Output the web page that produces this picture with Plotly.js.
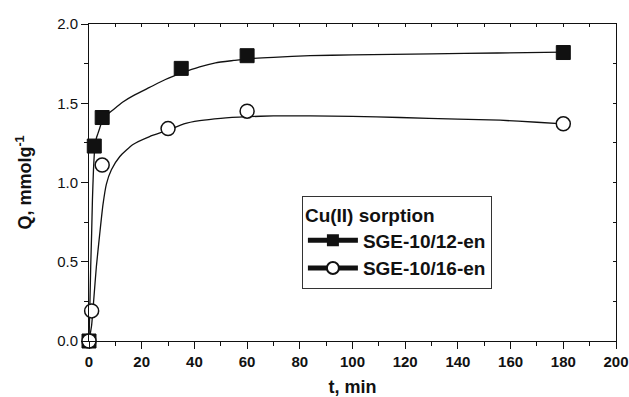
<!DOCTYPE html>
<html>
<head>
<meta charset="utf-8">
<script src="https://cdn.plot.ly/plotly-3.0.1.min.js"></script>
<style>html,body{margin:0;padding:0;background:#fff;}#chart{width:629px;height:397px;}</style>
</head>
<body>
<div id="chart"></div>
<script>
// measured data points
var tSquare = [0, 2, 5, 35, 60, 180];
var qSquare = [0, 1.23, 1.41, 1.72, 1.80, 1.82];
var tCircle = [0, 1, 5, 30, 60, 180];
var qCircle = [0, 0.19, 1.11, 1.34, 1.45, 1.37];

// fitted curves
var tFitSquare = [0, 0.3, 0.65, 1.0, 1.3, 1.7, 2.2, 2.8, 3.4, 4.2, 5, 7, 10, 13, 17, 23, 29, 35, 42, 48, 55, 60, 70, 84, 100, 130, 155, 180];
var qFitSquare = [0, 0.2, 0.47, 0.68, 0.89, 1.08, 1.22, 1.28, 1.31, 1.35, 1.39, 1.43, 1.47, 1.51, 1.55, 1.60, 1.65, 1.69, 1.73, 1.755, 1.77, 1.78, 1.79, 1.80, 1.805, 1.812, 1.817, 1.822];
var tFitCircle = [0, 1, 1.8, 2.8, 4.1, 5.3, 6.6, 8.5, 11.7, 16.7, 23, 30, 36, 42, 50, 60, 70, 84, 100, 118, 140, 156, 170, 180];
var qFitCircle = [0, 0.1, 0.26, 0.47, 0.68, 0.86, 0.99, 1.08, 1.164, 1.24, 1.29, 1.33, 1.37, 1.39, 1.405, 1.415, 1.42, 1.42, 1.417, 1.41, 1.40, 1.393, 1.38, 1.37];

var seriesNames = ['SGE-10/12-en', 'SGE-10/16-en'];
var legendTitle = 'Cu(II) sorption';
var xTitle = 't, min';
var yTitle = 'Q, mmolg<sup>-1</sup>';

var traces = [
  {x: tFitSquare, y: qFitSquare, mode: 'lines+markers', name: seriesNames[0],
   line: {color: '#111', width: 1.3, shape: 'spline', smoothing: 0.5},
   marker: {symbol: 'square', size: 0.001, color: '#111', line: {color: '#111', width: 0}}},
  {x: tFitCircle, y: qFitCircle, mode: 'lines+markers', name: seriesNames[1],
   line: {color: '#111', width: 1.3, shape: 'spline', smoothing: 0.5},
   marker: {symbol: 'circle', size: 0.001, color: '#fff', line: {color: '#111', width: 1.5}}},
  {x: tSquare, y: qSquare, xaxis: 'x2', yaxis: 'y2', mode: 'markers', showlegend: false, cliponaxis: false,
   marker: {symbol: 'square', size: 14, color: '#111', line: {color: '#111', width: 1}}},
  {x: tCircle, y: qCircle, xaxis: 'x2', yaxis: 'y2', mode: 'markers', showlegend: false, cliponaxis: false,
   marker: {symbol: 'circle', size: 14, color: '#fff', line: {color: '#111', width: 1.5}}}
];

var layout = {
  width: 629, height: 397,
  margin: {l: 89, r: 13, t: 24, b: 56},
  paper_bgcolor: '#fff', plot_bgcolor: '#fff',
  font: {family: 'Liberation Sans, Arial, sans-serif', color: '#111'},
  showlegend: true,
  legend: {
    x: 0.404, y: 0.458, xanchor: 'left', yanchor: 'top',
    bgcolor: '#fff', bordercolor: '#333', borderwidth: 1,
    itemsizing: 'constant', itemwidth: 50,
    font: {size: 19, family: 'Liberation Sans, Arial, sans-serif', weight: 'bold', color: '#111'},
    title: {text: '<b>' + legendTitle + '</b>', font: {size: 19, color: '#111'}},
    tracegroupgap: 0
  },
  xaxis: {
    range: [0, 200], dtick: 20, tick0: 0,
    showline: true, linecolor: '#111', linewidth: 1,
    ticks: 'outside', ticklen: 7, tickcolor: '#111',
    minor: {dtick: 10, ticks: 'outside', ticklen: 4, tickcolor: '#111'},
    showgrid: false, zeroline: false,
    tickfont: {size: 15, weight: 'bold', color: '#111'},
    title: {text: '<b>' + xTitle + '</b>', font: {size: 18, color: '#111'}, standoff: 15}
  },
  yaxis: {
    range: [0, 2], dtick: 0.5, tick0: 0, tickformat: '.1f',
    showline: true, linecolor: '#111', linewidth: 1,
    ticks: 'outside', ticklen: 7, tickcolor: '#111',
    minor: {dtick: 0.25, ticks: 'outside', ticklen: 4, tickcolor: '#111'},
    showgrid: false, zeroline: false,
    tickfont: {size: 15, color: '#111'},
    title: {text: '<b>' + yTitle + '</b>', font: {size: 18, color: '#111'}, standoff: 20}
  },
  xaxis2: {
    range: [0, 200], dtick: 10, tick0: 0, overlaying: 'x', side: 'top', anchor: 'y2',
    showline: true, linecolor: '#111', linewidth: 1,
    ticks: 'inside', ticklen: 3, tickcolor: '#111',
    showticklabels: false, showgrid: false, zeroline: false
  },
  yaxis2: {
    range: [0, 2], dtick: 0.25, tick0: 0, overlaying: 'y', side: 'right', anchor: 'x2',
    showline: true, linecolor: '#111', linewidth: 1,
    ticks: 'inside', ticklen: 3, tickcolor: '#111',
    showticklabels: false, showgrid: false, zeroline: false
  }
};

Plotly.newPlot('chart', traces, layout, {displayModeBar: false, staticPlot: true});
</script>
</body>
</html>
